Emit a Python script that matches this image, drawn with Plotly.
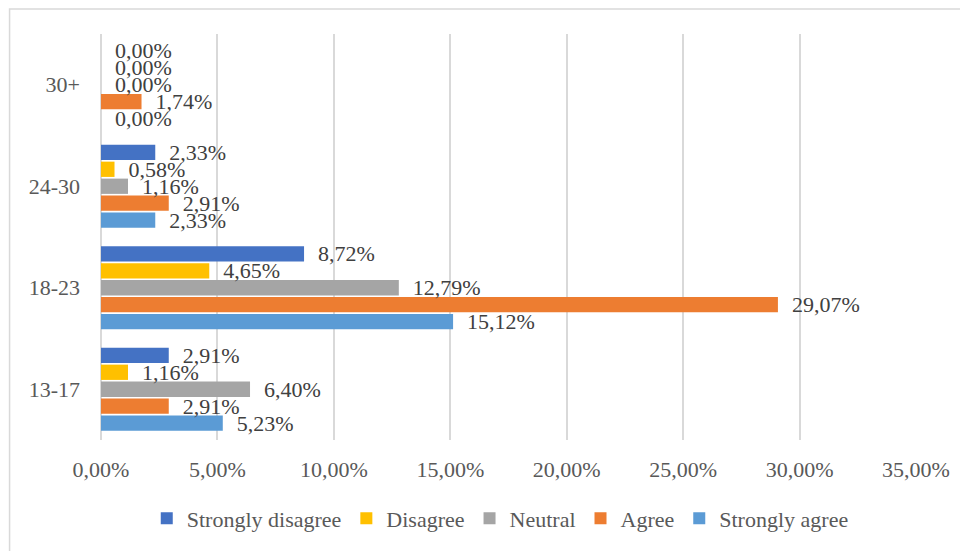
import plotly.graph_objects as go

categories = ["13-17", "18-23", "24-30", "30+"]
series_names = ["Strongly agree", "Agree", "Neutral", "Disagree", "Strongly disagree"]
strongly_agree = [5.23, 15.12, 2.33, 0.00]
agree = [2.91, 29.07, 2.91, 1.74]
neutral = [6.40, 12.79, 1.16, 0.00]
disagree = [1.16, 4.65, 0.58, 0.00]
strongly_disagree = [2.91, 8.72, 2.33, 0.00]
x_ticks = [0, 5, 10, 15, 20, 25, 30, 35]
x_tick_labels = [f"{v:.2f}".replace(".", ",") + "%" for v in x_ticks]

series_values = [strongly_agree, agree, neutral, disagree, strongly_disagree]
colors = ["#5B9BD5", "#ED7D31", "#A5A5A5", "#FFC000", "#4472C4"]

FONT = "Liberation Serif"
OFF = 8  # page body margin
W, H = 968 - OFF, 551 - OFF
L, R, T, B = 100.5 - OFF, 52, 34 - OFF, 110.5
pw, ph = W - L - R, H - T - B

fig = go.Figure()
for name, vals, col in zip(series_names, series_values, colors):
    fig.add_trace(go.Bar(
        y=categories, x=vals, name=name, orientation="h",
        marker=dict(color=col, line=dict(width=0)),
        texttemplate="\u00a0\u00a0%{x:.2f}%",
        textposition="outside",
        constraintext="none",
        cliponaxis=False,
        textfont=dict(family=FONT, size=22, color="#404040"),
        hoverinfo="skip",
    ))

def px_x(p):  # image pixel -> paper x
    return (p - OFF - L) / pw

def px_y(p):  # image pixel -> paper y
    return (H - B - (p - OFF)) / ph

fig.update_layout(
    width=W, height=H,
    margin=dict(l=L, r=R, t=T, b=B),
    paper_bgcolor="white", plot_bgcolor="white",
    barmode="group", bargap=0.164, bargroupgap=0.1,
    separators=",.",
    font=dict(family=FONT, size=22, color="#595959"),
    xaxis=dict(
        range=[0, 35], tickmode="array", tickvals=x_ticks, ticktext=x_tick_labels,
        showgrid=True, gridcolor="#D9D9D9", gridwidth=1.5,
        zeroline=True, zerolinecolor="#D9D9D9", zerolinewidth=1.5,
        showline=False, ticks="", ticklabelstandoff=14,
        tickfont=dict(family=FONT, size=22, color="#595959"),
        fixedrange=True,
    ),
    yaxis=dict(
        showgrid=False, zeroline=False, showline=False, ticks="",
        ticklabelstandoff=20,
        tickfont=dict(family=FONT, size=22, color="#595959"),
        fixedrange=True,
    ),
    legend=dict(
        orientation="h", traceorder="reversed",
        x=px_x(500), xanchor="center", y=px_y(519), yanchor="middle",
        font=dict(family=FONT, size=22, color="#595959"),
        itemwidth=30, bgcolor="rgba(0,0,0,0)",
    ),
    showlegend=True,
    shapes=[dict(
        type="rect", xref="paper", yref="paper",
        x0=px_x(9), x1=px_x(975), y0=px_y(560), y1=px_y(9),
        line=dict(color="#D9D9D9", width=1.5), fillcolor="rgba(0,0,0,0)",
        layer="below",
    )],
)

fig.write_html("out.html")
